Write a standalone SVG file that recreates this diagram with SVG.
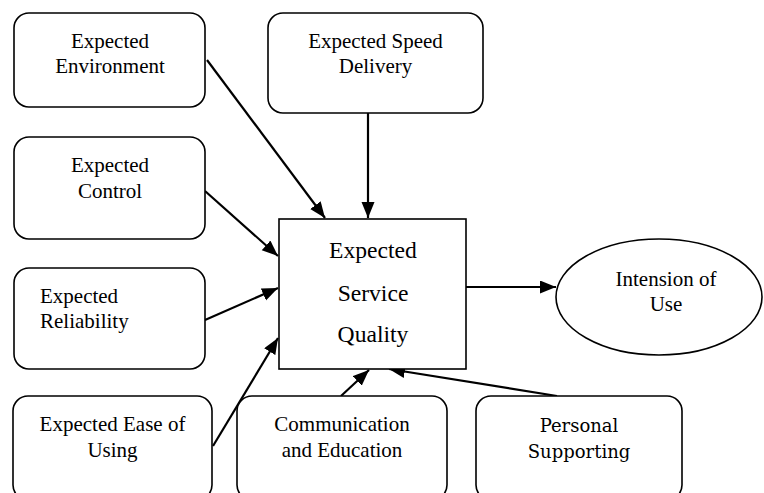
<svg xmlns="http://www.w3.org/2000/svg" width="764" height="493" viewBox="0 0 764 493">
<style>
.box{fill:#fff;stroke:#000;stroke-width:1.6}
.t{font-family:"Liberation Serif","Times New Roman",serif;font-size:21px;fill:#000;text-anchor:middle}
.tc{font-family:"Liberation Serif","Times New Roman",serif;font-size:23.6px;fill:#000;text-anchor:middle}
.tp{font-family:"DejaVu Serif",serif;font-size:18px;fill:#000;text-anchor:middle}
.c{stroke:#000;stroke-width:2.2;fill:none;marker-end:url(#ah)}
</style>
<defs>
<marker id="ah" markerUnits="userSpaceOnUse" markerWidth="17" markerHeight="14" refX="16" refY="6.5" orient="auto">
<path d="M0,0 L16,6.5 L0,13 Z" fill="#000"/>
</marker>
</defs>
<g id="connectors">
<line class="c" x1="207" y1="60" x2="325" y2="218"/>
<line class="c" x1="368" y1="113" x2="368" y2="218"/>
<line class="c" x1="205" y1="191" x2="278" y2="256"/>
<line class="c" x1="205" y1="320" x2="278" y2="288"/>
<line class="c" x1="213" y1="446" x2="278" y2="338"/>
<line class="c" x1="341" y1="396" x2="369" y2="370"/>
<line class="c" x1="557" y1="396" x2="389" y2="369"/>
<line class="c" x1="466" y1="287" x2="556" y2="287"/>
</g>
<g id="env"><rect class="box" x="14" y="13" width="191" height="94" rx="15"/><text class="t" x="110" y="48">Expected</text><text class="t" x="110" y="73">Environment</text></g>
<g id="speed"><rect class="box" x="268" y="13" width="215" height="100" rx="15"/><text class="t" x="375.5" y="48">Expected Speed</text><text class="t" x="375.5" y="73">Delivery</text></g>
<g id="control"><rect class="box" x="14" y="137" width="191" height="102" rx="15"/><text class="t" x="110" y="172">Expected</text><text class="t" x="110" y="198">Control</text></g>
<g id="reliability"><rect class="box" x="14" y="268" width="191" height="101" rx="15"/><text class="t" x="40" y="303" style="text-anchor:start">Expected</text><text class="t" x="40" y="328" style="text-anchor:start">Reliability</text></g>
<g id="quality"><rect class="box" x="279" y="219" width="187" height="150"/><text class="tc" x="373" y="258">Expected</text><text class="tc" x="373" y="301">Service</text><text class="tc" x="373" y="342">Quality</text></g>
<g id="intension"><ellipse class="box" cx="659" cy="297" rx="103" ry="58"/><text class="t" x="666" y="286">Intension of</text><text class="t" x="666" y="311">Use</text></g>
<g id="ease"><rect class="box" x="13" y="396" width="199" height="104" rx="15"/><text class="t" x="112.5" y="431">Expected Ease of</text><text class="t" x="112.5" y="457">Using</text></g>
<g id="comm"><rect class="box" x="237" y="396" width="210" height="104" rx="15"/><text class="t" x="342" y="431">Communication</text><text class="t" x="342" y="457">and Education</text></g>
<g id="personal"><rect class="box" x="476" y="396" width="206" height="104" rx="15"/><text class="tp" x="579" y="432">Personal</text><text class="tp" x="579" y="458">Supporting</text></g>
</svg>
